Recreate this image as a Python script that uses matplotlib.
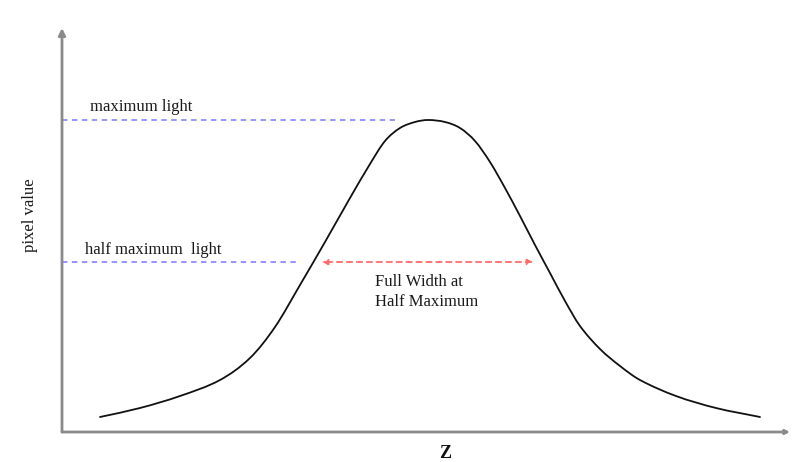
import matplotlib
matplotlib.use("Agg")
import matplotlib.pyplot as plt
from matplotlib.path import Path
from matplotlib.patches import PathPatch

plt.rcParams['font.family'] = ['Liberation Serif', 'DejaVu Serif']

# intensity profile along Z
z = [38, 78, 118, 158, 188, 213, 238, 263, 288, 308, 323, 338, 353, 366,
     383, 398, 413, 428, 443, 458, 473, 488, 503, 518, 538, 558, 578, 614, 654, 698]
pixel = [15, 24, 36, 52, 74, 105, 147, 190, 234, 268, 291, 304, 310, 312,
         310, 304, 291, 270, 244, 216, 187, 159, 131, 106, 83, 66, 52, 36, 24, 15]

max_light = 312
half_light = 170
max_line_end = 333
half_line_end = 238
fwhm_left, fwhm_right = 260, 471


def smooth_path(xs, ys):
    # cubic hermite through the points, slopes from neighbouring points
    n = len(xs)
    m = []
    for i in range(n):
        a, b = max(i - 1, 0), min(i + 1, n - 1)
        m.append((ys[b] - ys[a]) / (xs[b] - xs[a]))
    verts = [(xs[0], ys[0])]
    codes = [Path.MOVETO]
    for i in range(n - 1):
        h = (xs[i + 1] - xs[i]) / 3
        verts += [(xs[i] + h, ys[i] + m[i] * h),
                  (xs[i + 1] - h, ys[i + 1] - m[i + 1] * h),
                  (xs[i + 1], ys[i + 1])]
        codes += [Path.CURVE4] * 3
    return Path(verts, codes)


fig = plt.figure(figsize=(7.96, 4.62), dpi=100)
ax = fig.add_axes([62 / 796, 30 / 462, 728 / 796, 404 / 462])
ax.set_xlim(0, 728)
ax.set_ylim(0, 404)
ax.axis('off')

# axes drawn as arrows
ax.annotate('', xy=(0, 1), xytext=(0, 0), xycoords='axes fraction',
            arrowprops=dict(arrowstyle='-|>', color='#8a8a8a', lw=2,
                            mutation_scale=10, shrinkA=0, shrinkB=0))
ax.annotate('', xy=(1, 0), xytext=(0, 0), xycoords='axes fraction',
            arrowprops=dict(arrowstyle='-|>', color='#8a8a8a', lw=2,
                            mutation_scale=6, shrinkA=0, shrinkB=0))

ax.add_patch(PathPatch(smooth_path(z, pixel), fill=False, edgecolor='#111111',
                       lw=1.3, capstyle='round'))

blue = '#8c8cff'
ax.plot([0, max_line_end], [max_light, max_light], color=blue, lw=1.3,
        ls=(0, (3, 2.5)))
ax.plot([0, half_line_end], [half_light, half_light], color=blue, lw=1.3,
        ls=(0, (3, 2.5)))

ax.annotate('', xy=(fwhm_left, half_light), xytext=(fwhm_right, half_light),
            arrowprops=dict(arrowstyle='<|-|>', color='#ff6c6c', lw=1.3,
                            ls=(0, (3, 2.5)), mutation_scale=8,
                            shrinkA=0, shrinkB=0))

ax.text(28, max_light + 5, 'maximum light', fontsize=12, color='#1a1a1a',
        va='bottom')
ax.text(23, half_light + 4, 'half maximum  light', fontsize=12, color='#1a1a1a',
        va='bottom')
ax.text(313, 140, 'Full Width at\nHalf Maximum', fontsize=12, color='#1a1a1a',
        va='center', ha='left', linespacing=1.35)

ax.text(-32, 217, 'pixel value', fontsize=12, rotation=90, ha='center',
        va='center', color='#1a1a1a')
ax.text(383, -13, 'Z', fontsize=13, fontweight='bold', ha='center', va='top',
        color='#111111')

fig.savefig('out.png', dpi=100, facecolor='white')
